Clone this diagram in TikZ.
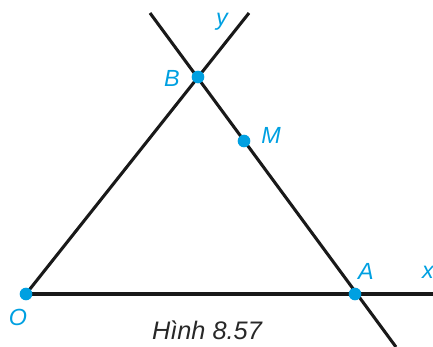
\documentclass[tikz,border=0pt]{standalone}
\usepackage{fontspec}
\setmainfont{Liberation Sans}
\definecolor{ptcyan}{RGB}{0,160,225}
\definecolor{capgray}{RGB}{40,40,40}
\begin{document}
\begin{tikzpicture}[x=0.75pt,y=-0.75pt,
  seg/.style={line width=2.3pt,color=black!90},
  pt/.style={circle,fill=ptcyan,inner sep=0pt,minimum size=9.5pt},
  lbl/.style={text=ptcyan,font=\fontsize{17.5}{19}\selectfont\itshape,inner sep=0pt},
  captext/.style={text=capgray,font=\fontsize{19}{21}\selectfont\itshape,inner sep=0pt}]
\useasboundingbox (0,0) rectangle (433,347);
\coordinate (Oc) at (26,294);
\coordinate (Ac) at (355,294);
\coordinate (Bc) at (198,77);
\coordinate (Mc) at (244,141);
\coordinate (xend) at (433,294);
\coordinate (yend) at (249,13);
\coordinate (top) at (150,13);
\coordinate (bot) at (396,347);
\draw[seg] (Oc) -- (xend);
\draw[seg] (Oc) -- (yend);
\draw[seg] (top) -- (bot);
\node[pt] (O) at (Oc) {};
\node[pt] (A) at (Ac) {};
\node[pt] (B) at (Bc) {};
\node[pt] (M) at (Mc) {};
\node[lbl] (lO) at (18,317) {O};
\node[lbl] (lA) at (366,271) {A};
\node[lbl] (lx) at (428,272) {x};
\node[lbl] (lB) at (172,78) {B};
\node[lbl] (lM) at (271,135) {M};
\node[lbl] (ly) at (222,22) {y};
\node[captext] (caption) at (207,330) {Hình 8.57};
\end{tikzpicture}
\end{document}
